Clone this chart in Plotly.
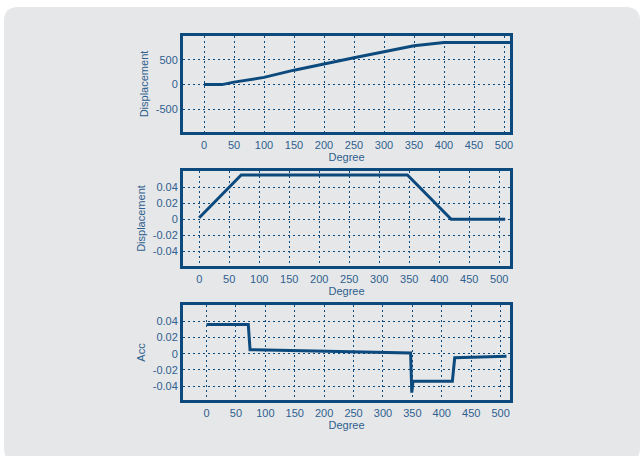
import plotly.graph_objects as go
from plotly.subplots import make_subplots

# Data
deg1 = [0, 30, 50, 100, 150, 200, 250, 300, 350, 400, 510]
disp1 = [0, 0, 50, 145, 290, 420, 540, 660, 780, 845, 845]

deg2 = [0, 70, 347, 420, 510]
disp2 = [0.002, 0.055, 0.055, 0.0, 0.0]

deg3 = [0, 71, 74, 347, 349, 351, 418, 422, 510]
acc3 = [0.036, 0.036, 0.005, 0.001, -0.048, -0.034, -0.034, -0.005, -0.003]

x_ticks = [0, 50, 100, 150, 200, 250, 300, 350, 400, 450, 500]
y1_ticks = [-500, 0, 500]
y23_ticks = [-0.04, -0.02, 0, 0.02, 0.04]
y23_labels = ["-0.04", "-0.02", "0", "0.02", "0.04"]

NAVY = "#0c4a7d"
TXT = "#2f5f8e"
BG = "#e6e7e9"

fig = make_subplots(rows=3, cols=1)
for i, (x, y) in enumerate([(deg1, disp1), (deg2, disp2), (deg3, acc3)], start=1):
    fig.add_trace(go.Scatter(x=x, y=y, mode="lines",
                             line=dict(color=NAVY, width=3), showlegend=False),
                  row=i, col=1)

W, H = 643, 456
L, R, T, B = 183, 133, 36, 56
pw = W - L - R
ph = H - T - B

def ydom(top, bot):
    return [(H - B - bot) / ph, (H - B - top) / ph]

doms = [ydom(36, 132), ydom(171, 266), ydom(305, 400)]
xranges = [[-35, 510], [-27, 518], [-40, 516]]
yranges = [[-950, 975], [-0.058, 0.06], [-0.057, 0.06]]
ytitles = ["Displacement", "Displacement", "Acc"]

axfont = dict(family="Liberation Sans, Arial, sans-serif", size=11, color=TXT)
for i in range(3):
    xa = "xaxis" if i == 0 else f"xaxis{i+1}"
    ya = "yaxis" if i == 0 else f"yaxis{i+1}"
    fig.layout[xa].update(
        domain=[0, 1], range=xranges[i], tickvals=x_ticks,
        showgrid=True, gridcolor=NAVY, griddash="2px,3px", gridwidth=1,
        zeroline=False, showline=True, linecolor=NAVY, linewidth=3, mirror=True,
        ticks="", tickfont=axfont, ticklabelstandoff=1,
        title=dict(text="Degree", font=axfont, standoff=3))
    if i == 0:
        yv, yl = y1_ticks, [str(v) for v in y1_ticks]
    else:
        yv, yl = y23_ticks, y23_labels
    fig.layout[ya].update(
        domain=doms[i], range=yranges[i], tickvals=yv, ticktext=yl,
        showgrid=True, gridcolor=NAVY, griddash="2px,3px", gridwidth=1,
        zeroline=False, showline=True, linecolor=NAVY, linewidth=3, mirror=True,
        ticks="", tickfont=axfont,
        title=dict(text=ytitles[i], font=axfont, standoff=5))

# rounded grey panel
x0 = (4 - L) / pw
x1 = (640 - L) / pw
y0 = (H - B - 462) / ph
y1 = (H - B - 7) / ph
rx = 14 / pw
ry = 14 / ph
path = (f"M {x0+rx},{y1} L {x1-rx},{y1} Q {x1},{y1} {x1},{y1-ry} "
        f"L {x1},{y0+ry} Q {x1},{y0} {x1-rx},{y0} L {x0+rx},{y0} "
        f"Q {x0},{y0} {x0},{y0+ry} L {x0},{y1-ry} Q {x0},{y1} {x0+rx},{y1} Z")
fig.add_shape(type="path", path=path, xref="paper", yref="paper",
              fillcolor=BG, line=dict(width=0), layer="below")

fig.update_layout(
    width=W, height=H,
    margin=dict(l=L, r=R, t=T, b=B, autoexpand=False),
    paper_bgcolor="white", plot_bgcolor=BG,
    font=axfont,
)

fig.write_html("out.html", config={"displayModeBar": False},
               post_script="document.body.style.margin='0';document.body.style.overflow='hidden';")
